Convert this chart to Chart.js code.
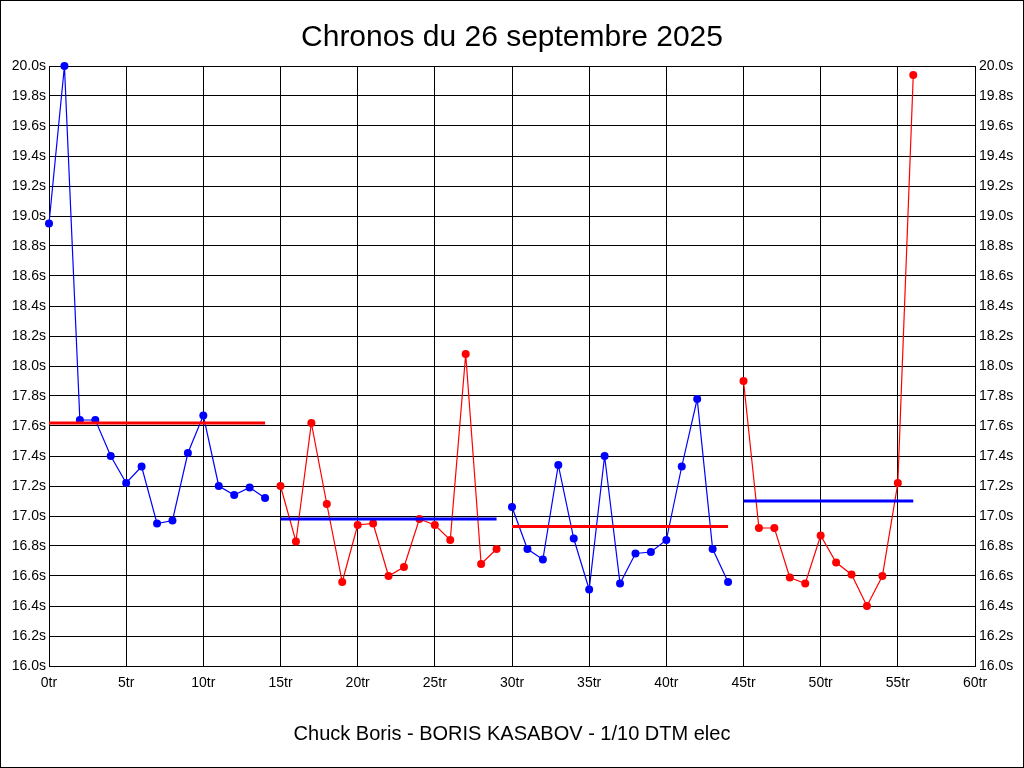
<!DOCTYPE html>
<html>
<head>
<meta charset="utf-8">
<script src="https://cdn.jsdelivr.net/npm/chart.js@4/dist/chart.umd.min.js"></script>
<style>
  html, body { margin: 0; padding: 0; background: #fff; }
  #wrap { width: 1024px; height: 768px; position: relative; }
  canvas { display: block; }
</style>
</head>
<body>
<div id="wrap"><canvas id="c" width="1024" height="768"></canvas></div>
<script>
// ---- Data ----
const chartTitle = "Chronos du 26 septembre 2025";
const chartFooter = "Chuck Boris - BORIS KASABOV - 1/10 DTM elec";

// Each run: first lap index and lap times (seconds)
const run1Start = 0;
const run1Times = [18.95, 20.00, 17.64, 17.64, 17.40, 17.22, 17.33, 16.95, 16.97, 17.42, 17.67, 17.20, 17.14, 17.19, 17.12];
const run2Start = 15;
const run2Times = [17.20, 16.83, 17.62, 17.08, 16.56, 16.94, 16.95, 16.60, 16.66, 16.98, 16.94, 16.84, 18.08, 16.68, 16.78];
const run3Start = 30;
const run3Times = [17.06, 16.78, 16.71, 17.34, 16.85, 16.51, 17.40, 16.55, 16.75, 16.76, 16.84, 17.33, 17.78, 16.78, 16.56];
const run4Start = 45;
const run4Times = [17.90, 16.92, 16.92, 16.59, 16.55, 16.87, 16.69, 16.61, 16.40, 16.60, 17.22, 19.94];

// Reference (average) line level per run
const runAverages = [17.62, 16.98, 16.93, 17.10];

// Axis ticks
const xMin = 0, xMax = 60, xStep = 5, xSuffix = "tr";
const yMin = 16.0, yMax = 20.0, yStep = 0.2, ySuffix = "s";

// ---- Build datasets ----
const BLUE = "#0000ff", RED = "#ff0000";
const runs = [
  { start: run1Start, times: run1Times, color: BLUE, avgColor: RED },
  { start: run2Start, times: run2Times, color: RED, avgColor: BLUE },
  { start: run3Start, times: run3Times, color: BLUE, avgColor: RED },
  { start: run4Start, times: run4Times, color: RED, avgColor: BLUE },
];

const datasets = [];
runs.forEach((r, i) => {
  const pts = r.times.map((t, k) => ({ x: r.start + k, y: t }));
  datasets.push({
    data: pts,
    borderColor: r.color,
    backgroundColor: r.color,
    borderWidth: 1.2,
    pointRadius: 4,
    pointBorderWidth: 0,
    pointBackgroundColor: r.color,
    tension: 0,
    clip: false,
    yAxisID: "y",
    order: 2
  });
  const last = r.start + r.times.length - 1;
  datasets.push({
    data: [{ x: r.start, y: runAverages[i] }, { x: last, y: runAverages[i] }],
    borderColor: r.avgColor,
    backgroundColor: r.avgColor,
    borderWidth: 3,
    pointRadius: 0,
    tension: 0,
    clip: false,
    yAxisID: "y",
    order: 1
  });
});

const FONT = "'Liberation Sans', Arial, Helvetica, sans-serif";

const frame = {
  id: "frame",
  afterDraw(chart) {
    const ctx = chart.ctx;
    ctx.save();
    ctx.strokeStyle = "#000";
    ctx.lineWidth = 1;
    ctx.strokeRect(0.5, 0.5, chart.width - 1, chart.height - 1);
    ctx.restore();
  }
};

new Chart(document.getElementById("c"), {
  type: "line",
  data: { datasets },
  plugins: [frame],
  options: {
    responsive: false,
    animation: false,
    devicePixelRatio: 1,
    layout: { padding: 0 },
    plugins: {
      legend: { display: false },
      tooltip: { enabled: false },
      title: {
        display: true,
        text: chartTitle,
        color: "#000",
        font: { family: FONT, size: 30, weight: "normal", lineHeight: 1.2 },
        padding: { top: 20, bottom: 10 }
      },
      subtitle: {
        display: true,
        position: "bottom",
        text: chartFooter,
        color: "#000",
        font: { family: FONT, size: 20, weight: "normal", lineHeight: 1.2 },
        padding: { top: 10, bottom: 22 }
      }
    },
    scales: {
      x: {
        type: "linear",
        min: xMin, max: xMax,
        afterFit(s) { s.height = 46; },
        ticks: {
          stepSize: xStep,
          autoSkip: false,
          maxRotation: 0,
          padding: 9,
          color: "#000",
          font: { family: FONT, size: 14 },
          callback: v => v + xSuffix
        },
        grid: { color: "#000", lineWidth: 1, drawTicks: false },
        border: { display: true, color: "#000", width: 1 }
      },
      y: {
        type: "linear",
        position: "left",
        min: yMin, max: yMax,
        afterFit(s) { s.width = 49; },
        ticks: {
          stepSize: yStep,
          autoSkip: false,
          padding: 3,
          color: "#000",
          font: { family: FONT, size: 14 },
          callback: v => v.toFixed(1) + ySuffix
        },
        grid: { color: "#000", lineWidth: 1, drawTicks: false },
        border: { display: true, color: "#000", width: 1 }
      },
      y2: {
        type: "linear",
        position: "right",
        min: yMin, max: yMax,
        afterFit(s) { s.width = 49; },
        ticks: {
          stepSize: yStep,
          autoSkip: false,
          padding: 4,
          color: "#000",
          font: { family: FONT, size: 14 },
          callback: v => v.toFixed(1) + ySuffix
        },
        grid: { display: false, drawTicks: false },
        border: { display: true, color: "#000", width: 1 }
      }
    }
  }
});
</script>
</body>
</html>
